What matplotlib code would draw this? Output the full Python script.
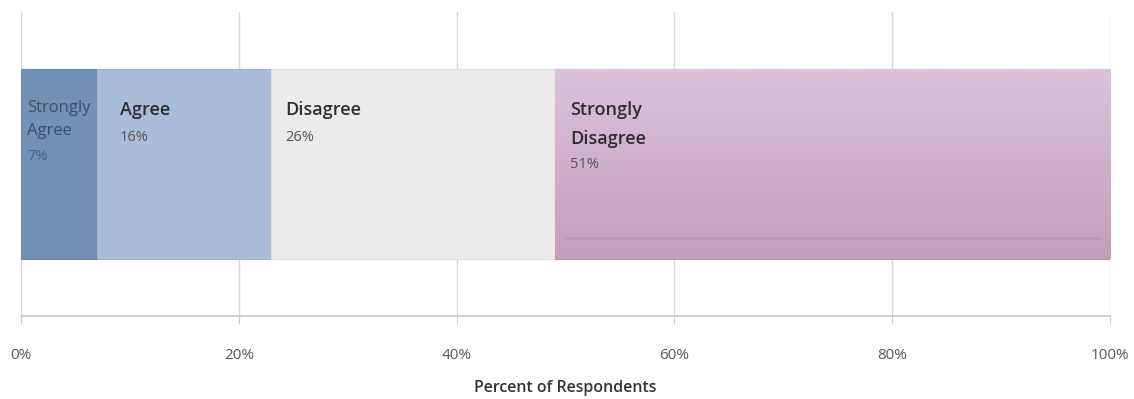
import matplotlib.pyplot as plt
import numpy as np
from matplotlib.colors import LinearSegmentedColormap

plt.rcParams['font.family'] = ['Open Sans', 'DejaVu Sans']

categories = ['Strongly\nAgree', 'Agree', 'Disagree', 'Strongly\nDisagree']
percents = [7, 16, 26, 51]
tick_vals = [0, 20, 40, 60, 80, 100]
xlabel = 'Percent of Respondents'

colors = ['#7190b3', '#a9bcd9', '#ecebe9', '#cdadca']
edges = ['#6a87a8', '#9fb3d0', '#e0dedc', '#b996b3']

fig = plt.figure(figsize=(11.34, 3.99), dpi=100)
ax = fig.add_axes([21 / 1134, 83 / 399, 1089 / 1134, 304 / 399])

lefts = np.concatenate([[0], np.cumsum(percents)[:-1]])
bars = ax.barh(0.5, percents, left=lefts, height=0.625, color=colors,
               edgecolor=edges, linewidth=0.8, zorder=2)

# soft vertical gradient on the big purple segment
grad = LinearSegmentedColormap.from_list('pur', ['#dbc3dc', '#c39ebb'])
b = bars[-1]
x0, y0 = b.get_x(), b.get_y()
ax.imshow(np.linspace(0, 1, 100).reshape(-1, 1), cmap=grad, aspect='auto',
          extent=(x0, x0 + b.get_width(), y0, y0 + b.get_height()),
          origin='upper', zorder=2.2)
ax.plot([x0 + 1, x0 + b.get_width() - 1], [y0 + 0.07, y0 + 0.07],
        color='#b890b0', lw=2, alpha=0.6, zorder=2.3)

# segment labels: (dx, first line, line step, gap to percent) in points
name_sizes = [12, 13, 13, 13]
name_colors = ['#3e5068', '#2e2e2e', '#2e2e2e', '#2e2e2e']
pct_colors = ['#4a607c', '#555555', '#555555', '#555555']
dx = [4.5, 16.5, 10, 11]
first = [-28, -29.5, -29.5, -29.5]
step = [16.5, 21, 21, 21]
pct_gap = [18.5, 19.5, 19.5, 18]
top = 0.5 + 0.625 / 2
for i, bar in enumerate(bars):
    y_off = first[i]
    lines = categories[i].split('\n')
    for k, ln in enumerate(lines):
        ax.annotate(ln, (bar.get_x(), top), xytext=(dx[i], y_off),
                    textcoords='offset points', va='center', ha='left',
                    fontsize=name_sizes[i], color=name_colors[i],
                    fontweight='normal' if i == 0 else 'semibold', zorder=4)
        if k < len(lines) - 1:
            y_off -= step[i]
    y_off -= pct_gap[i]
    ax.annotate(f'{percents[i]}%', (bar.get_x(), top), xytext=(dx[i], y_off),
                textcoords='offset points', va='center', ha='left',
                fontsize=10.5, color=pct_colors[i], zorder=4)

ax.set_xlim(0, 100)
ax.set_ylim(0, 1)
ax.set_xticks(tick_vals)
ax.set_xticklabels([f'{v}%' for v in tick_vals], fontsize=11, color='#595959')
ax.set_yticks([])
ax.grid(axis='x', color='#d9d9d9', lw=1, zorder=0)
for s in ['top', 'right', 'left']:
    ax.spines[s].set_visible(False)
ax.spines['bottom'].set_color('#c8c8c8')
ax.spines['bottom'].set_linewidth(1.2)
ax.tick_params(axis='x', length=5, color='#c8c8c8', pad=18)
ax.set_xlabel(xlabel, fontsize=11.5, fontweight='semibold', color='#333333', labelpad=12)

fig.savefig('out.png', dpi=100)
